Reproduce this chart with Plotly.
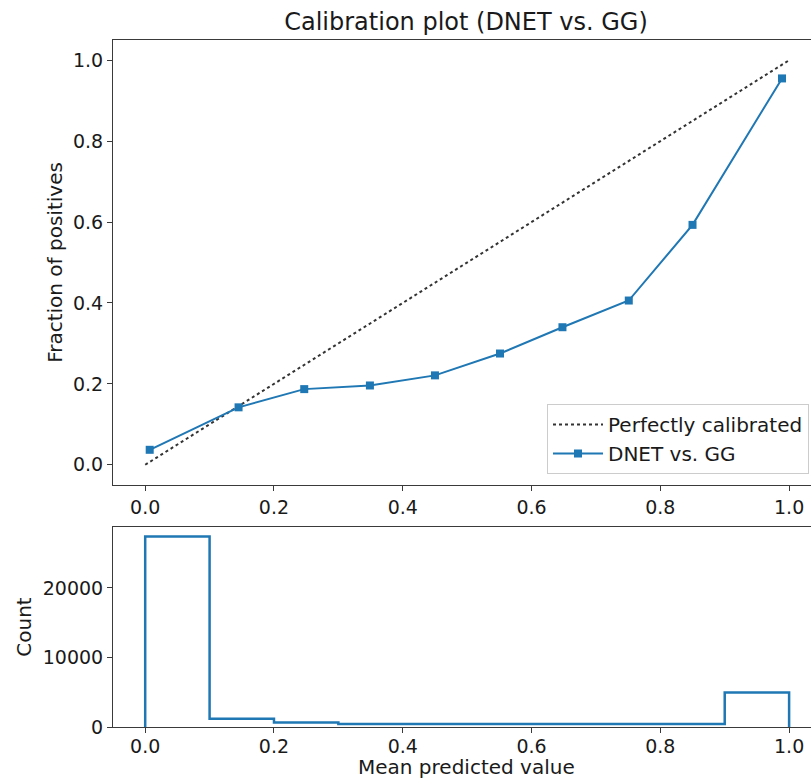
import plotly.graph_objects as go

# Calibration curve data
prob_pred = [0.007, 0.145, 0.247, 0.349, 0.450, 0.551, 0.648, 0.751, 0.850, 0.989]
prob_true = [0.037, 0.142, 0.187, 0.196, 0.221, 0.275, 0.340, 0.406, 0.593, 0.955]

# Perfect calibration reference
ref_x = [0.0, 1.0]
ref_y = [0.0, 1.0]

# Histogram (step) of predicted values
bin_edges = [0.0, 0.1, 0.2, 0.3, 0.4, 0.5, 0.6, 0.7, 0.8, 0.9, 1.0]
bin_counts = [27400, 1200, 640, 420, 420, 420, 420, 420, 420, 4950]

tick_vals_x = [0.0, 0.2, 0.4, 0.6, 0.8, 1.0]
tick_text_x = ["0.0", "0.2", "0.4", "0.6", "0.8", "1.0"]
tick_vals_top_y = [0.0, 0.2, 0.4, 0.6, 0.8, 1.0]
tick_text_top_y = ["0.0", "0.2", "0.4", "0.6", "0.8", "1.0"]
tick_vals_count = [0, 10000, 20000]
tick_text_count = ["0", "10000", "20000"]

BLUE = "#1f77b4"
FONT = "DejaVu Sans"
TXT = "#1a1a1a"
AX = "#3a3a3a"

# build step outline from edges and counts
step_x = [bin_edges[0]] + bin_edges[:-1] + [bin_edges[-1]]
step_y = [0] + bin_counts + [0]

fig = go.Figure()

fig.add_trace(go.Scatter(
    x=ref_x, y=ref_y, mode="lines", name="Perfectly calibrated",
    line=dict(color="#333333", width=2, dash="dot"),
    xaxis="x", yaxis="y",
))
fig.add_trace(go.Scatter(
    x=prob_pred, y=prob_true, mode="lines+markers", name="DNET vs. GG",
    line=dict(color=BLUE, width=2),
    marker=dict(symbol="square", size=8, color=BLUE),
    xaxis="x", yaxis="y",
))
fig.add_trace(go.Scatter(
    x=step_x, y=step_y, mode="lines", line_shape="hv", showlegend=False,
    line=dict(color=BLUE, width=2.5),
    xaxis="x2", yaxis="y2",
))

axis_common = dict(
    showgrid=False, zeroline=False, showline=True, linecolor=AX, linewidth=1,
    ticks="outside", ticklen=5, tickcolor=AX, tickwidth=1,
    tickfont=dict(family=FONT, size=19, color=TXT),
    automargin=False,
)

W, H = 811, 780
L, R, T, B = 113, 0, 40, 53
plot_h = H - T - B
top_bottom_px = 485
bot_top_px = 527

fig.update_layout(
    width=W, height=H,
    margin=dict(l=L, r=R, t=T, b=B, autoexpand=False),
    plot_bgcolor="white", paper_bgcolor="white",
    font=dict(family=FONT, color=TXT),
    title=dict(
        text="Calibration plot (DNET vs. GG)",
        font=dict(family=FONT, size=24, color=TXT),
        x=(466 - L) / (W - L - R), xref="paper", xanchor="center",
        y=1 - 22 / H, yref="container", yanchor="middle",
    ),
    xaxis=dict(
        **axis_common, domain=[0, 1], range=[-0.05, 1.034], mirror=True,
        tickvals=tick_vals_x, ticktext=tick_text_x, anchor="y",
    ),
    yaxis=dict(
        **axis_common, domain=[(H - B - top_bottom_px) / plot_h, 1],
        range=[-0.05, 1.05], mirror=False,
        tickvals=tick_vals_top_y, ticktext=tick_text_top_y, anchor="x",
        title=dict(text="Fraction of positives",
                   font=dict(family=FONT, size=20, color=TXT), standoff=4),
    ),
    xaxis2=dict(
        **axis_common, domain=[0, 1], range=[-0.05, 1.034], mirror=True,
        tickvals=tick_vals_x, ticktext=tick_text_x, anchor="y2",
        ticklabelstandoff=-3,
    ),
    yaxis2=dict(
        **axis_common, domain=[0, (H - B - bot_top_px) / plot_h],
        range=[0, max(bin_counts) * 1.05], mirror=False,
        tickvals=tick_vals_count, ticktext=tick_text_count, anchor="x2",
        title=dict(text="Count",
                   font=dict(family=FONT, size=20, color=TXT), standoff=5),
    ),
    legend=dict(
        x=(809 - L) / (W - L - R), xanchor="right", xref="paper",
        y=(H - B - 474) / plot_h, yanchor="bottom", yref="paper",
        bgcolor="white", bordercolor="#cccccc", borderwidth=1,
        font=dict(family=FONT, size=20, color=TXT),
        itemwidth=50, tracegroupgap=0,
    ),
    showlegend=True,
)

fig.add_annotation(
    text="Mean predicted value", showarrow=False,
    xref="paper", x=(466 - L) / (W - L - R), xanchor="center",
    yref="paper", y=0, yanchor="bottom", yshift=-(B + 1),
    font=dict(family=FONT, size=20, color=TXT),
)

fig.write_html("out.html")
